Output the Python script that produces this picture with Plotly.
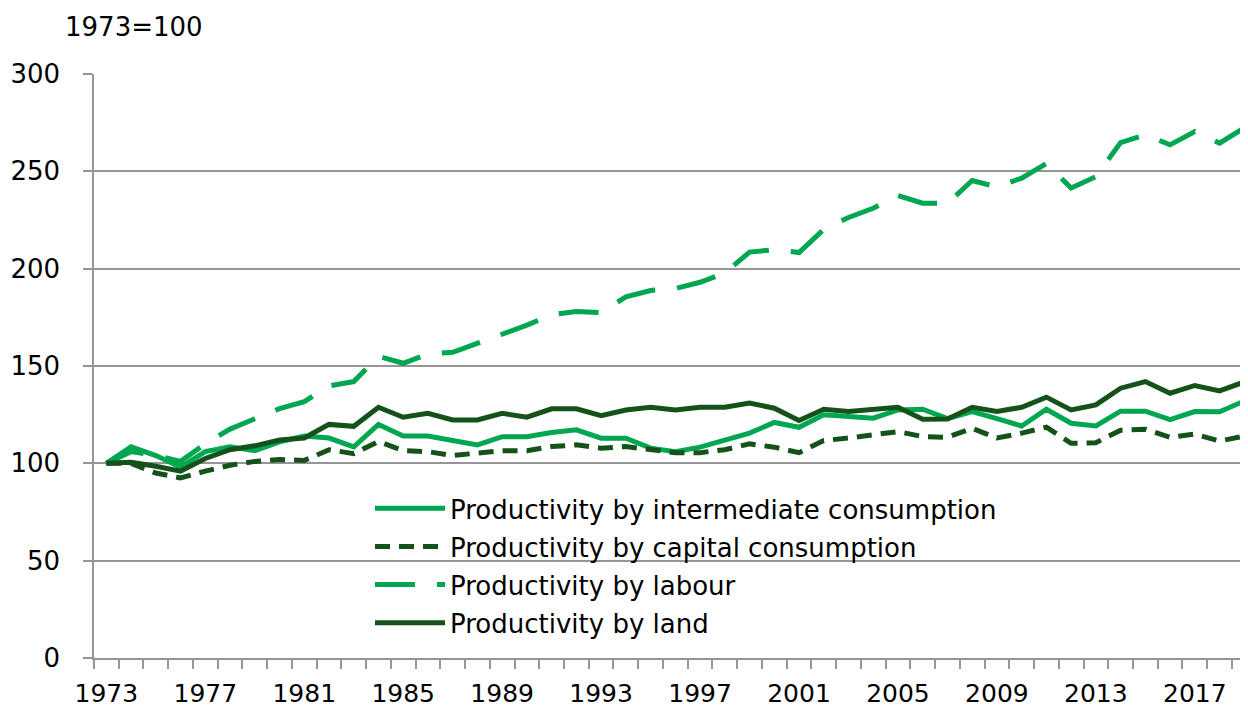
import plotly.graph_objects as go

LIGHT = "#00A650"
DARK = "#15521A"
GRID = "#969696"
FONT = "DejaVu Sans"

years = list(range(1973, 2020))

intermediate = [
    100, 108.5, 104, 98, 106, 108.5, 106.5, 111, 114, 113,
    108.5, 120, 114, 114, 111.7, 109.5, 113.7, 113.7, 115.8, 117.2,
    112.9, 112.9, 107.8, 106, 108.3, 112, 115.5, 121, 118.5, 124.9,
    124, 123.2, 127.4, 127.8, 123, 126.6, 123, 119.2, 127.8, 120.6,
    119.2, 126.8, 126.8, 122.5, 126.6, 126.5, 132,
]
capital = [
    100, 100, 95, 92.5, 96, 99, 101, 102, 101.5, 107,
    105, 111.2, 106.5, 106, 104, 105.2, 106.5, 106.5, 108.6, 109.5,
    107.8, 108.6, 107.2, 105.5, 105.5, 107, 110, 108.3, 105.5, 111.7,
    113, 114.6, 116.3, 113.7, 113.4, 118, 113, 115.5, 118.6, 110.3,
    110.6, 117, 117.5, 113.4, 115, 111.5, 114,
]
labour = [
    100, 106, 104, 101, 110, 117.6, 122.9, 128.1, 131.7, 139.8,
    142, 155, 151.4, 156.2, 157, 161.5, 166, 171, 176.3, 178,
    177.4, 185.5, 188.8, 189.8, 193, 197.8, 208.5, 209.8, 208.3, 220.2,
    226.3, 231, 237.5, 233.6, 233.5, 245.3, 242, 246.5, 254, 241.4,
    247.3, 264.8, 268.8, 263.6, 270.5, 264.5, 272.3,
]
land = [
    100, 100.5, 98.5, 96, 102.5, 107, 109, 112, 113, 120,
    119, 128.8, 123.7, 125.7, 122.3, 122.3, 125.7, 123.7, 128, 128,
    124.5, 127.4, 128.8, 127.4, 128.8, 128.8, 131, 128.3, 122, 127.8,
    126.6, 127.8, 128.8, 122.7, 122.8, 128.8, 126.6, 128.8, 134, 127.4,
    130, 138.6, 142, 136, 140, 137.2, 141.8,
]

series = [
    ("Productivity by intermediate consumption", intermediate, LIGHT, "solid"),
    ("Productivity by capital consumption", capital, DARK, "15px,9px"),
    ("Productivity by labour", labour, LIGHT, "40px,22px"),
    ("Productivity by land", land, DARK, "solid"),
]

fig = go.Figure()
for i, (name, vals, color, dash) in enumerate(series):
    fig.add_trace(
        go.Scatter(
            x=years,
            y=vals,
            name=name,
            legendgroup=f"g{i}",
            mode="lines",
            line=dict(color=color, width=5, dash=dash),
            cliponaxis=False,
        )
    )

# page body adds an 8px margin, so the figure is drawn 8px in from the corner
fig.update_layout(
    width=1240,
    height=699,
    paper_bgcolor="white",
    plot_bgcolor="white",
    font=dict(family=FONT, size=26, color="black"),
    margin=dict(l=86, r=0, t=66, b=49, autoexpand=False),
    legend=dict(
        x=276 / 1154,
        y=0.2963,
        xanchor="left",
        yanchor="top",
        bgcolor="rgba(0,0,0,0)",
        font=dict(family=FONT, size=26, color="black"),
        itemwidth=70,
        traceorder="grouped",
        tracegroupgap=1.3,
    ),
    shapes=[
        dict(
            type="rect",
            xref="paper",
            yref="paper",
            x0=(168 - 94) / 1154,
            x1=1,
            y0=0.03,
            y1=0.3,
            fillcolor="white",
            line_width=0,
            layer="between",
        )
    ],
    annotations=[
        dict(
            text="1973=100",
            xref="paper",
            yref="paper",
            x=-0.0266,
            y=1.08,
            xanchor="left",
            yanchor="middle",
            showarrow=False,
            font=dict(family=FONT, size=26, color="black"),
        )
    ],
)

fig.update_xaxes(
    automargin=False,
    range=[1972.5, 2019.15],
    tickmode="linear",
    tick0=1973,
    dtick=4,
    ticks="",
    showgrid=False,
    showline=True,
    linecolor=GRID,
    linewidth=1.5,
    zeroline=False,
    tickfont=dict(size=25),
    ticklabelstandoff=12,
    minor=dict(
        tick0=1972.5,
        dtick=1,
        ticks="outside",
        ticklen=9,
        tickcolor=GRID,
        tickwidth=1.5,
        showgrid=False,
    ),
)
fig.update_yaxes(
    automargin=False,
    range=[0, 300],
    tickmode="linear",
    tick0=0,
    dtick=50,
    ticks="outside",
    ticklen=9,
    tickcolor=GRID,
    tickwidth=1.5,
    showgrid=True,
    gridcolor=GRID,
    gridwidth=1.5,
    showline=True,
    linecolor=GRID,
    linewidth=1.5,
    zeroline=False,
    ticklabelstandoff=18,
)

fig.write_html("out.html")
